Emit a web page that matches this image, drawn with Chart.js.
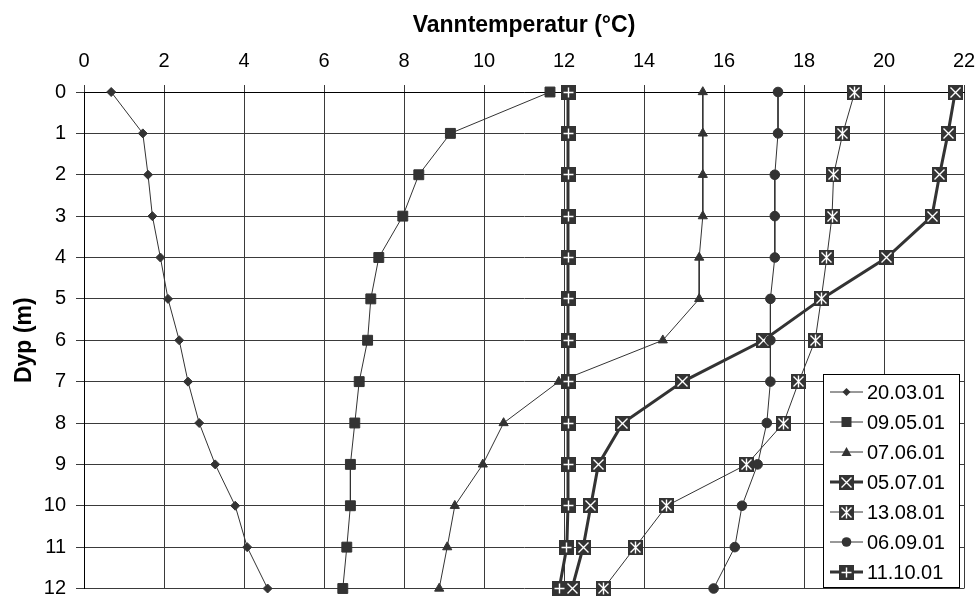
<!DOCTYPE html>
<html>
<head>
<meta charset="utf-8">
<script src="https://cdn.jsdelivr.net/npm/chart.js@4.4.1/dist/chart.umd.min.js"></script>
<style>
  html, body { margin: 0; padding: 0; background: #fff; }
  canvas { display: block; }
</style>
</head>
<body>
<canvas id="grafico" width="976" height="597"></canvas>
<script>
  // Datos del perfil de temperatura (dybde i meter)
  const dybder = [0, 1, 2, 3, 4, 5, 6, 7, 8, 9, 10, 11, 12];
  const datoer = ['20.03.01', '09.05.01', '07.06.01', '05.07.01', '13.08.01', '06.09.01', '11.10.01'];

  const temp200301 = [0.68, 1.47, 1.6, 1.71, 1.91, 2.1, 2.38, 2.6, 2.88, 3.28, 3.78, 4.08, 4.59];
  const temp090501 = [11.65, 9.16, 8.37, 7.97, 7.37, 7.17, 7.09, 6.88, 6.77, 6.66, 6.66, 6.57, 6.47];
  const temp070601 = [15.47, 15.47, 15.47, 15.47, 15.38, 15.38, 14.47, 11.87, 10.49, 9.97, 9.27, 9.08, 8.88];
  const temp050701 = [21.78, 21.6, 21.39, 21.2, 20.07, 18.44, 16.99, 14.97, 13.47, 12.86, 12.67, 12.48, 12.2];
  const temp130801 = [19.27, 18.97, 18.74, 18.7, 18.57, 18.43, 18.28, 17.87, 17.49, 16.57, 14.57, 13.78, 12.99];
  const temp060901 = [17.35, 17.35, 17.27, 17.27, 17.27, 17.16, 17.16, 17.16, 17.07, 16.84, 16.45, 16.27, 15.74];
  const temp111001 = [12.1, 12.1, 12.1, 12.1, 12.1, 12.1, 12.1, 12.1, 12.1, 12.1, 12.1, 12.07, 11.88];

  const xTicks = [0, 2, 4, 6, 8, 10, 12, 14, 16, 18, 20, 22];

  const farge = '#333333';

  // Marcadores grandes: cuadrado oscuro con símbolo blanco
  function makeMarker(kind) {
    const c = document.createElement('canvas');
    c.width = 15; c.height = 15;
    const g = c.getContext('2d');
    g.fillStyle = farge;
    g.fillRect(0, 0, 15, 15);
    g.strokeStyle = '#fff';
    g.lineWidth = 1.4;
    g.beginPath();
    if (kind === 'x' || kind === 'star') {
      g.moveTo(2.5, 2.5); g.lineTo(12.5, 12.5);
      g.moveTo(12.5, 2.5); g.lineTo(2.5, 12.5);
    }
    if (kind === 'star') {
      g.moveTo(7.5, 1.5); g.lineTo(7.5, 13.5);
    }
    if (kind === 'plus') {
      g.moveTo(7.5, 2.5); g.lineTo(7.5, 12.5);
      g.moveTo(2.5, 7.5); g.lineTo(12.5, 7.5);
    }
    g.stroke();
    return c;
  }

  const markX = makeMarker('x');
  const markStar = makeMarker('star');
  const markPlus = makeMarker('plus');

  const stiler = [
    { point: 'rectRot', radius: 4.5, width: 1 },
    { point: 'rect', radius: 7, width: 1 },
    { point: 'triangle', radius: 5.3, width: 1 },
    { point: markX, radius: 7.5, width: 3 },
    { point: markStar, radius: 7.5, width: 1 },
    { point: 'circle', radius: 4.8, width: 1 },
    { point: markPlus, radius: 7.5, width: 3 }
  ];

  const serier = [temp200301, temp090501, temp070601, temp050701, temp130801, temp060901, temp111001];

  const datasets = serier.map((s, i) => ({
    label: datoer[i],
    data: s.map((t, k) => ({ x: t, y: dybder[k] })),
    showLine: true,
    borderColor: farge,
    borderWidth: stiler[i].width,
    backgroundColor: farge,
    pointStyle: stiler[i].point,
    pointRadius: stiler[i].radius,
    pointBackgroundColor: farge,
    pointBorderColor: farge,
    pointBorderWidth: 1,
    clip: false,
    order: serier.length - i
  }));

  // Leyenda dibujada dentro del área del gráfico (abajo a la derecha)
  function drawLegendMarker(ctx, i, x, y) {
    const p = stiler[i].point;
    ctx.fillStyle = farge;
    ctx.beginPath();
    if (p === 'rectRot') {
      ctx.moveTo(x - 4, y); ctx.lineTo(x, y - 4); ctx.lineTo(x + 4, y); ctx.lineTo(x, y + 4);
      ctx.closePath(); ctx.fill();
    } else if (p === 'rect') {
      ctx.fillRect(x - 5, y - 5, 10, 10);
    } else if (p === 'triangle') {
      ctx.moveTo(x - 5, y + 4); ctx.lineTo(x, y - 5); ctx.lineTo(x + 5, y + 4);
      ctx.closePath(); ctx.fill();
    } else if (p === 'circle') {
      ctx.arc(x, y, 4.8, 0, Math.PI * 2); ctx.fill();
    } else {
      ctx.drawImage(p, Math.round(x - 7.5), Math.round(y - 7.5));
    }
  }

  // Marcadores nítidos (sin suavizado de imagen)
  const crispPlugin = {
    id: 'crisp',
    beforeDatasetsDraw(chart) {
      chart.ctx.imageSmoothingEnabled = false;
    }
  };

  const legendPlugin = {
    id: 'innerLegend',
    afterDraw(chart) {
      const ctx = chart.ctx;
      const left = 823, top = 374, w = 136, h = 213;
      ctx.save();
      ctx.fillStyle = '#fff';
      ctx.fillRect(left, top, w, h);
      ctx.strokeStyle = '#000';
      ctx.lineWidth = 1;
      ctx.strokeRect(left + 0.5, top + 0.5, w, h);
      datoer.forEach((d, i) => {
        const y = top + 18 + i * 30;
        ctx.strokeStyle = farge;
        ctx.lineWidth = stiler[i].width;
        ctx.beginPath();
        ctx.moveTo(left + 7, y);
        ctx.lineTo(left + 40, y);
        ctx.stroke();
        drawLegendMarker(ctx, i, left + 23.5, y);
        ctx.fillStyle = '#000';
        ctx.font = "20px 'Liberation Sans', Arial, sans-serif";
        ctx.textAlign = 'left';
        ctx.textBaseline = 'middle';
        ctx.fillText(d, left + 44, y + 1);
      });
      ctx.restore();
    }
  };

  const ctx = document.getElementById('grafico').getContext('2d');
  Chart.defaults.font.family = "'Liberation Sans', Arial, sans-serif";
  Chart.defaults.color = '#000';

  new Chart(ctx, {
    type: 'scatter',
    data: { datasets: datasets },
    options: {
      responsive: false,
      animation: false,
      layout: { padding: { left: 0, top: 0, right: 12, bottom: 7 } },
      plugins: {
        legend: { display: false },
        tooltip: { enabled: false }
      },
      scales: {
        x: {
          type: 'linear',
          position: 'top',
          min: 0,
          max: 22,
          afterBuildTicks: (scale) => { scale.ticks = xTicks.map(v => ({ value: v })); },
          afterFit: (scale) => {
            scale.height = 92;
            scale.paddingLeft = 0; scale.paddingRight = 0;
          },
          ticks: { font: { size: 20 }, padding: 12, maxRotation: 0 },
          grid: { color: '#3a3a3a', lineWidth: 1, tickLength: 7 },
          border: { display: true, color: '#000' },
          title: {
            display: true,
            text: 'Vanntemperatur (°C)',
            font: { size: 23, weight: 'bold' },
            padding: { top: 12, bottom: 0 }
          }
        },
        y: {
          type: 'linear',
          reverse: true,
          min: 0,
          max: 12,
          afterBuildTicks: (scale) => { scale.ticks = dybder.map(v => ({ value: v })); },
          afterFit: (scale) => {
            scale.width = 84;
            scale.paddingTop = 0; scale.paddingBottom = 0;
          },
          ticks: { font: { size: 20 }, padding: 10 },
          grid: { color: '#3a3a3a', lineWidth: 1, tickLength: 8 },
          border: { display: true, color: '#000' },
          title: {
            display: true,
            text: 'Dyp (m)',
            font: { size: 23, weight: 'bold' },
            padding: { top: 11, bottom: 0 }
          }
        }
      }
    },
    plugins: [crispPlugin, legendPlugin]
  });
</script>
</body>
</html>
